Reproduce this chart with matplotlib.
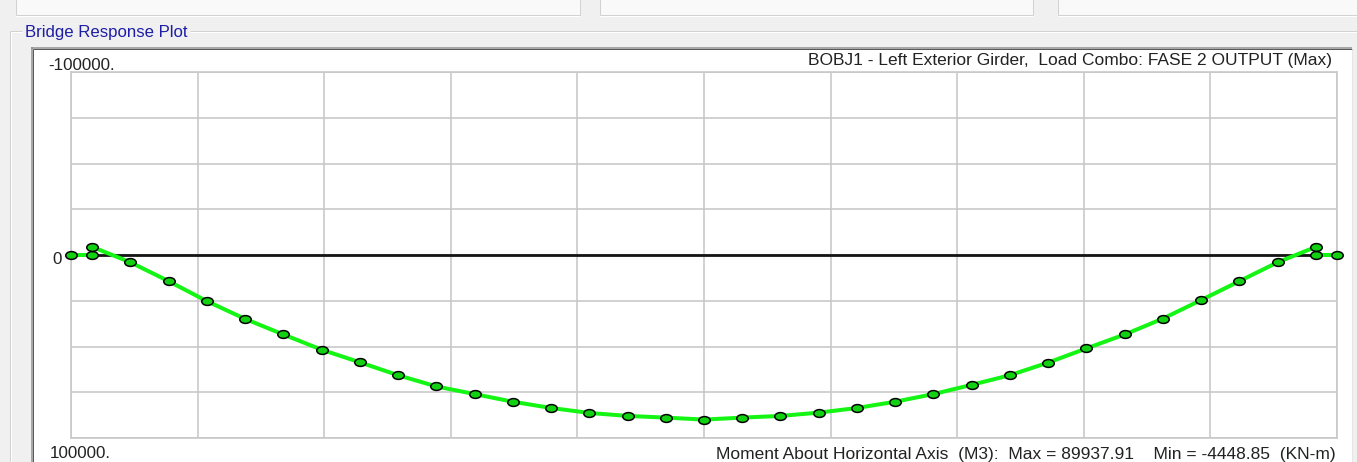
import matplotlib
matplotlib.use("Agg")
import matplotlib.pyplot as plt
import numpy as np
from matplotlib.path import Path
from matplotlib.patches import Rectangle
from matplotlib.lines import Line2D
from matplotlib.markers import MarkerStyle
from matplotlib.transforms import Affine2D

# ---- girder output: station along the girder (m) and moment M3 (kN-m) ----
station = [0.0, 0.55, 0.55,
           1.55, 2.55, 3.55, 4.55, 5.55, 6.55, 7.55, 8.55, 9.55, 10.55,
           11.55, 12.55, 13.55, 14.55, 15.55, 16.55, 17.55, 18.55, 19.55,
           20.55, 21.55, 22.55, 23.55, 24.55, 25.55, 26.55, 27.55, 28.55,
           29.55, 30.55, 31.55,
           32.55, 32.55, 33.1]
moment = [0.0, 0.0, -4448.85,
          3962, 14276, 25200, 34902, 43424, 51729, 58622, 65679, 71812, 75992,
          80172, 83591, 86305, 87934, 88856, 89937.91, 88856, 87934, 86142,
          83591, 80172, 75992, 70944, 65679, 58785, 51024, 43424, 34739,
          24600, 14276, 3962,
          -4448.85, 0.0, 0.0]

y_limits = (-100000.0, 100000.0)
y_tick_labels = ["-100000.", "0", "100000."]
group_title = "Bridge Response Plot"
plot_title = "BOBJ1 - Left Exterior Girder,  Load Combo: FASE 2 OUTPUT (Max)"
quantity = "Moment About Horizontal Axis  (M3)"
units = "KN-m"

plt.rcParams['font.family'] = ['Liberation Sans', 'DejaVu Sans']

W, H, DPI = 1357, 462, 100
fig = plt.figure(figsize=(W / DPI, H / DPI), dpi=DPI)
fig.patch.set_facecolor('#f0f0f0')


def fx(x):
    return x / W


def fy(y):
    return 1 - y / H


def pt(px):
    return px * 72.0 / DPI


def hline(x0, x1, y, color, lw=1.0, z=1):
    fig.add_artist(Line2D([fx(x0), fx(x1)], [fy(y), fy(y)], transform=fig.transFigure,
                          color=color, lw=pt(lw), solid_capstyle='butt', zorder=z))


def vline(x, y0, y1, color, lw=1.0, z=1):
    fig.add_artist(Line2D([fx(x), fx(x)], [fy(y0), fy(y1)], transform=fig.transFigure,
                          color=color, lw=pt(lw), solid_capstyle='butt', zorder=z))


def rect(x0, y0, x1, y1, fc, z=0):
    fig.add_artist(Rectangle((fx(x0), fy(y1)), fx(x1) - fx(x0), fy(y0) - fy(y1),
                             transform=fig.transFigure, fc=fc, ec='none', lw=0, zorder=z))


# dialog panels above
for x0, x1 in [(16, 580), (600, 1033), (1058, 1362)]:
    rect(x0, -5, x1, 15, '#f9f9f9')
    hline(x0, x1, 15, '#d2d2d2')
    hline(x0, x1, 16, '#ffffff')
    vline(x0, -5, 15, '#d2d2d2')
    vline(x1, -5, 15, '#d2d2d2')

# group box frame
hline(10, 22, 31, '#d2d2d2')
hline(190, 1362, 31, '#d2d2d2')
hline(11, 22, 32, '#ffffff')
hline(190, 1362, 32, '#ffffff')
vline(10, 31, 470, '#d2d2d2')
vline(11, 32, 470, '#ffffff')

# white plotting panel with sunken border
rect(31, 47, 1352, 470, '#ffffff', z=0.5)
hline(31, 1352, 47.5, '#8a8a8a', lw=1.5, z=2)
hline(33, 1352, 49, '#5a5a5a', lw=1.0, z=2)
vline(31.5, 47, 470, '#8a8a8a', lw=1.5, z=2)
vline(33, 49, 470, '#5a5a5a', lw=1.0, z=2)
vline(1351.5, 49, 470, '#e6e6e6', lw=1.0, z=2)

# plot axes
ax = fig.add_axes([fx(71), fy(438), (1337 - 71) / W, (438 - 72) / H])
ax.set_zorder(3)
ax.set_facecolor('#ffffff')
ax.set_xlim(station[0], station[-1])
ax.set_ylim(y_limits[1], y_limits[0])  # positive moment drawn downward
ax.set_xticks(np.linspace(station[0], station[-1], 11))
ax.set_yticks(np.linspace(y_limits[0], y_limits[1], 9))
ax.tick_params(length=0, labelbottom=False, labelleft=False)
ax.grid(True, color='#c8c8c8', lw=pt(1.6))
ax.set_axisbelow(True)
for s in ax.spines.values():
    s.set_color('#c8c8c8')
    s.set_linewidth(pt(1.6))

# zero reference line across the span
ax.plot([station[1], station[-2]], [0, 0], color='#151515', lw=pt(2.8),
        solid_capstyle='butt', zorder=2)

# moment diagram
ellipse = Path.unit_circle().transformed(Affine2D().scale(1.0, 0.68))
ax.plot(station, moment, color='#14f514', lw=pt(4.0), zorder=3,
        marker=MarkerStyle(ellipse), markersize=pt(11.5), markerfacecolor='#12d012',
        markeredgecolor='#000000', markeredgewidth=pt(1.5), clip_on=False)

renderer = fig.canvas.get_renderer()
text_color = '#222222'


def fitted_text(s, x_left, x_right, y_center, color):
    t = fig.text(fx(x_left), fy(y_center), s, fontsize=10, color=color,
                 ha='left', va='center', zorder=5)
    w = t.get_window_extent(renderer).width
    t.set_fontsize(10 * (x_right - x_left) / w)
    return t


fitted_text(group_title, 25, 187, 32, '#1d1da6')
top_lbl = fitted_text(y_tick_labels[0], 48, 115, 66, text_color)
fs = top_lbl.get_fontsize()
fig.text(fx(52), fy(260), y_tick_labels[1], fontsize=fs, color=text_color,
         ha='left', va='center', zorder=5)
fig.text(fx(50), fy(454), y_tick_labels[2], fontsize=fs, color=text_color,
         ha='left', va='center', zorder=5)

fitted_text(plot_title, 808, 1333, 61, text_color)
m_max = max(moment)
m_min = min(moment)
summary = f"{quantity}:  Max = {m_max:.2f}    Min = {m_min:.2f}  ({units})"
fitted_text(summary, 716, 1333, 454, text_color)

fig.savefig('out.png', dpi=DPI, facecolor=fig.get_facecolor())
